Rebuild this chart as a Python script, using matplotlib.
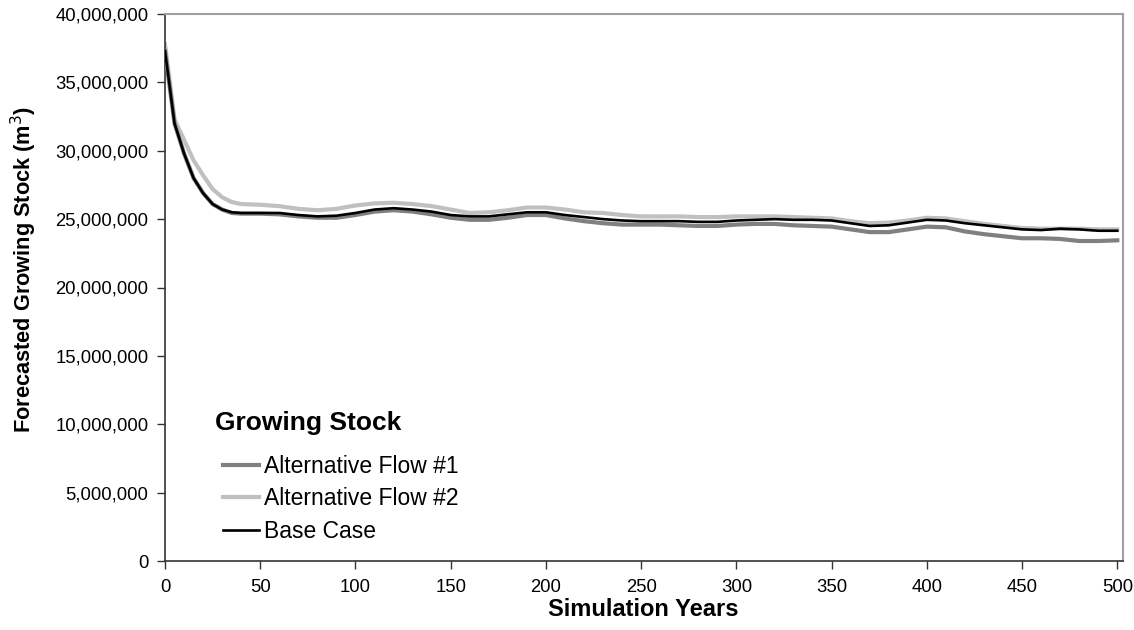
import matplotlib
matplotlib.use("Agg")
import matplotlib.pyplot as plt
from matplotlib.ticker import FuncFormatter

plt.rcParams['font.family'] = ['Liberation Sans', 'DejaVu Sans']

# simulation years (5-yr steps early, 10-yr afterwards)
years = [0, 5, 10, 15, 20, 25, 30, 35, 40] + list(range(50, 501, 10))

# growing stock, millions of m3
alt_flow_1 = [37.3, 32.0, 29.8, 28.0, 26.9, 26.1, 25.7, 25.45, 25.4,
              25.4, 25.35, 25.2, 25.1, 25.1, 25.3, 25.55, 25.65, 25.55, 25.35,
              25.1, 24.95, 24.95, 25.1, 25.3, 25.3, 25.05, 24.85, 24.7, 24.6,
              24.6, 24.6, 24.55, 24.5, 24.5, 24.6, 24.65, 24.65, 24.55, 24.5,
              24.45, 24.25, 24.05, 24.05, 24.25, 24.45, 24.4, 24.1, 23.9, 23.75,
              23.6, 23.6, 23.55, 23.4, 23.4, 23.45]
alt_flow_2 = [37.8, 32.3, 30.8, 29.3, 28.2, 27.2, 26.6, 26.25, 26.1,
              26.05, 25.95, 25.75, 25.65, 25.75, 26.0, 26.15, 26.2, 26.1, 25.95,
              25.7, 25.45, 25.5, 25.65, 25.85, 25.85, 25.7, 25.5, 25.45, 25.3,
              25.2, 25.2, 25.2, 25.15, 25.15, 25.2, 25.2, 25.2, 25.15, 25.1,
              25.05, 24.85, 24.7, 24.75, 24.9, 25.1, 25.05, 24.85, 24.65, 24.5,
              24.35, 24.3, 24.3, 24.3, 24.25, 24.25]
base_case = [37.3, 32.0, 29.8, 28.0, 26.9, 26.1, 25.7, 25.5, 25.45,
             25.45, 25.45, 25.3, 25.2, 25.25, 25.45, 25.7, 25.8, 25.7, 25.55,
             25.3, 25.2, 25.2, 25.35, 25.5, 25.5, 25.3, 25.15, 25.0, 24.9,
             24.85, 24.85, 24.85, 24.8, 24.8, 24.9, 24.95, 25.0, 24.95, 24.95,
             24.9, 24.7, 24.5, 24.55, 24.75, 24.95, 24.9, 24.7, 24.55, 24.4,
             24.25, 24.2, 24.3, 24.25, 24.15, 24.15]

series_names = ["Alternative Flow #1", "Alternative Flow #2", "Base Case"]

W, H = 1134, 630
fig = plt.figure(figsize=(W / 100, H / 100), dpi=100)
ax = fig.add_axes([165 / W, 1 - 561 / H, (1123 - 165) / W, (561 - 14) / H])

ax.plot(years, [v * 1e6 for v in alt_flow_2], color='#c0c0c0', lw=3.0, label=series_names[1], zorder=2)
ax.plot(years, [v * 1e6 for v in alt_flow_1], color='#808080', lw=3.0, label=series_names[0], zorder=3)
ax.plot(years, [v * 1e6 for v in base_case], color='black', lw=1.9, label=series_names[2], zorder=4)

ax.set_xlim(0, 503)
ax.set_ylim(0, 40e6)
ax.set_xticks(range(0, 501, 50))
ax.set_yticks(range(0, 40000001, 5000000))
ax.yaxis.set_major_formatter(FuncFormatter(lambda v, p: f"{int(v):,}"))
ax.tick_params(labelsize=13.3, direction='out', length=6, width=1, color='#333333')
ax.tick_params(axis='x', pad=7)
ax.tick_params(axis='y', pad=6)

for side in ['left', 'bottom']:
    ax.spines[side].set_color('#333333')
    ax.spines[side].set_linewidth(1.2)
for side in ['top', 'right']:
    ax.spines[side].set_color('#a0a0a0')
    ax.spines[side].set_linewidth(1.5)

ax.set_xlabel("Simulation Years", fontsize=17, fontweight='bold')
ax.xaxis.set_label_coords((643 - 165) / 958, (561 - 598) / 547)
ax.set_ylabel("Forecasted Growing Stock (m$^3$)", fontsize=15.7, fontweight='bold')
ax.yaxis.set_label_coords((39 - 165) / 958, (561 - 270) / 547)

# legend title drawn separately so the line keys sit indented under it
fig.text(215 / W, 1 - 423 / H, "Growing Stock", fontsize=19, fontweight='bold', va='center', ha='left')

handles, labels = ax.get_legend_handles_labels()
order = [1, 0, 2]
leg = fig.legend([handles[i] for i in order], [labels[i] for i in order],
                 loc='lower left', bbox_to_anchor=(223 / W, 1 - 543 / H),
                 frameon=False, fontsize=16.5, handlelength=1.55, handletextpad=0.22,
                 labelspacing=0.42, borderaxespad=0, borderpad=0)

fig.savefig("out.png", dpi=100)
